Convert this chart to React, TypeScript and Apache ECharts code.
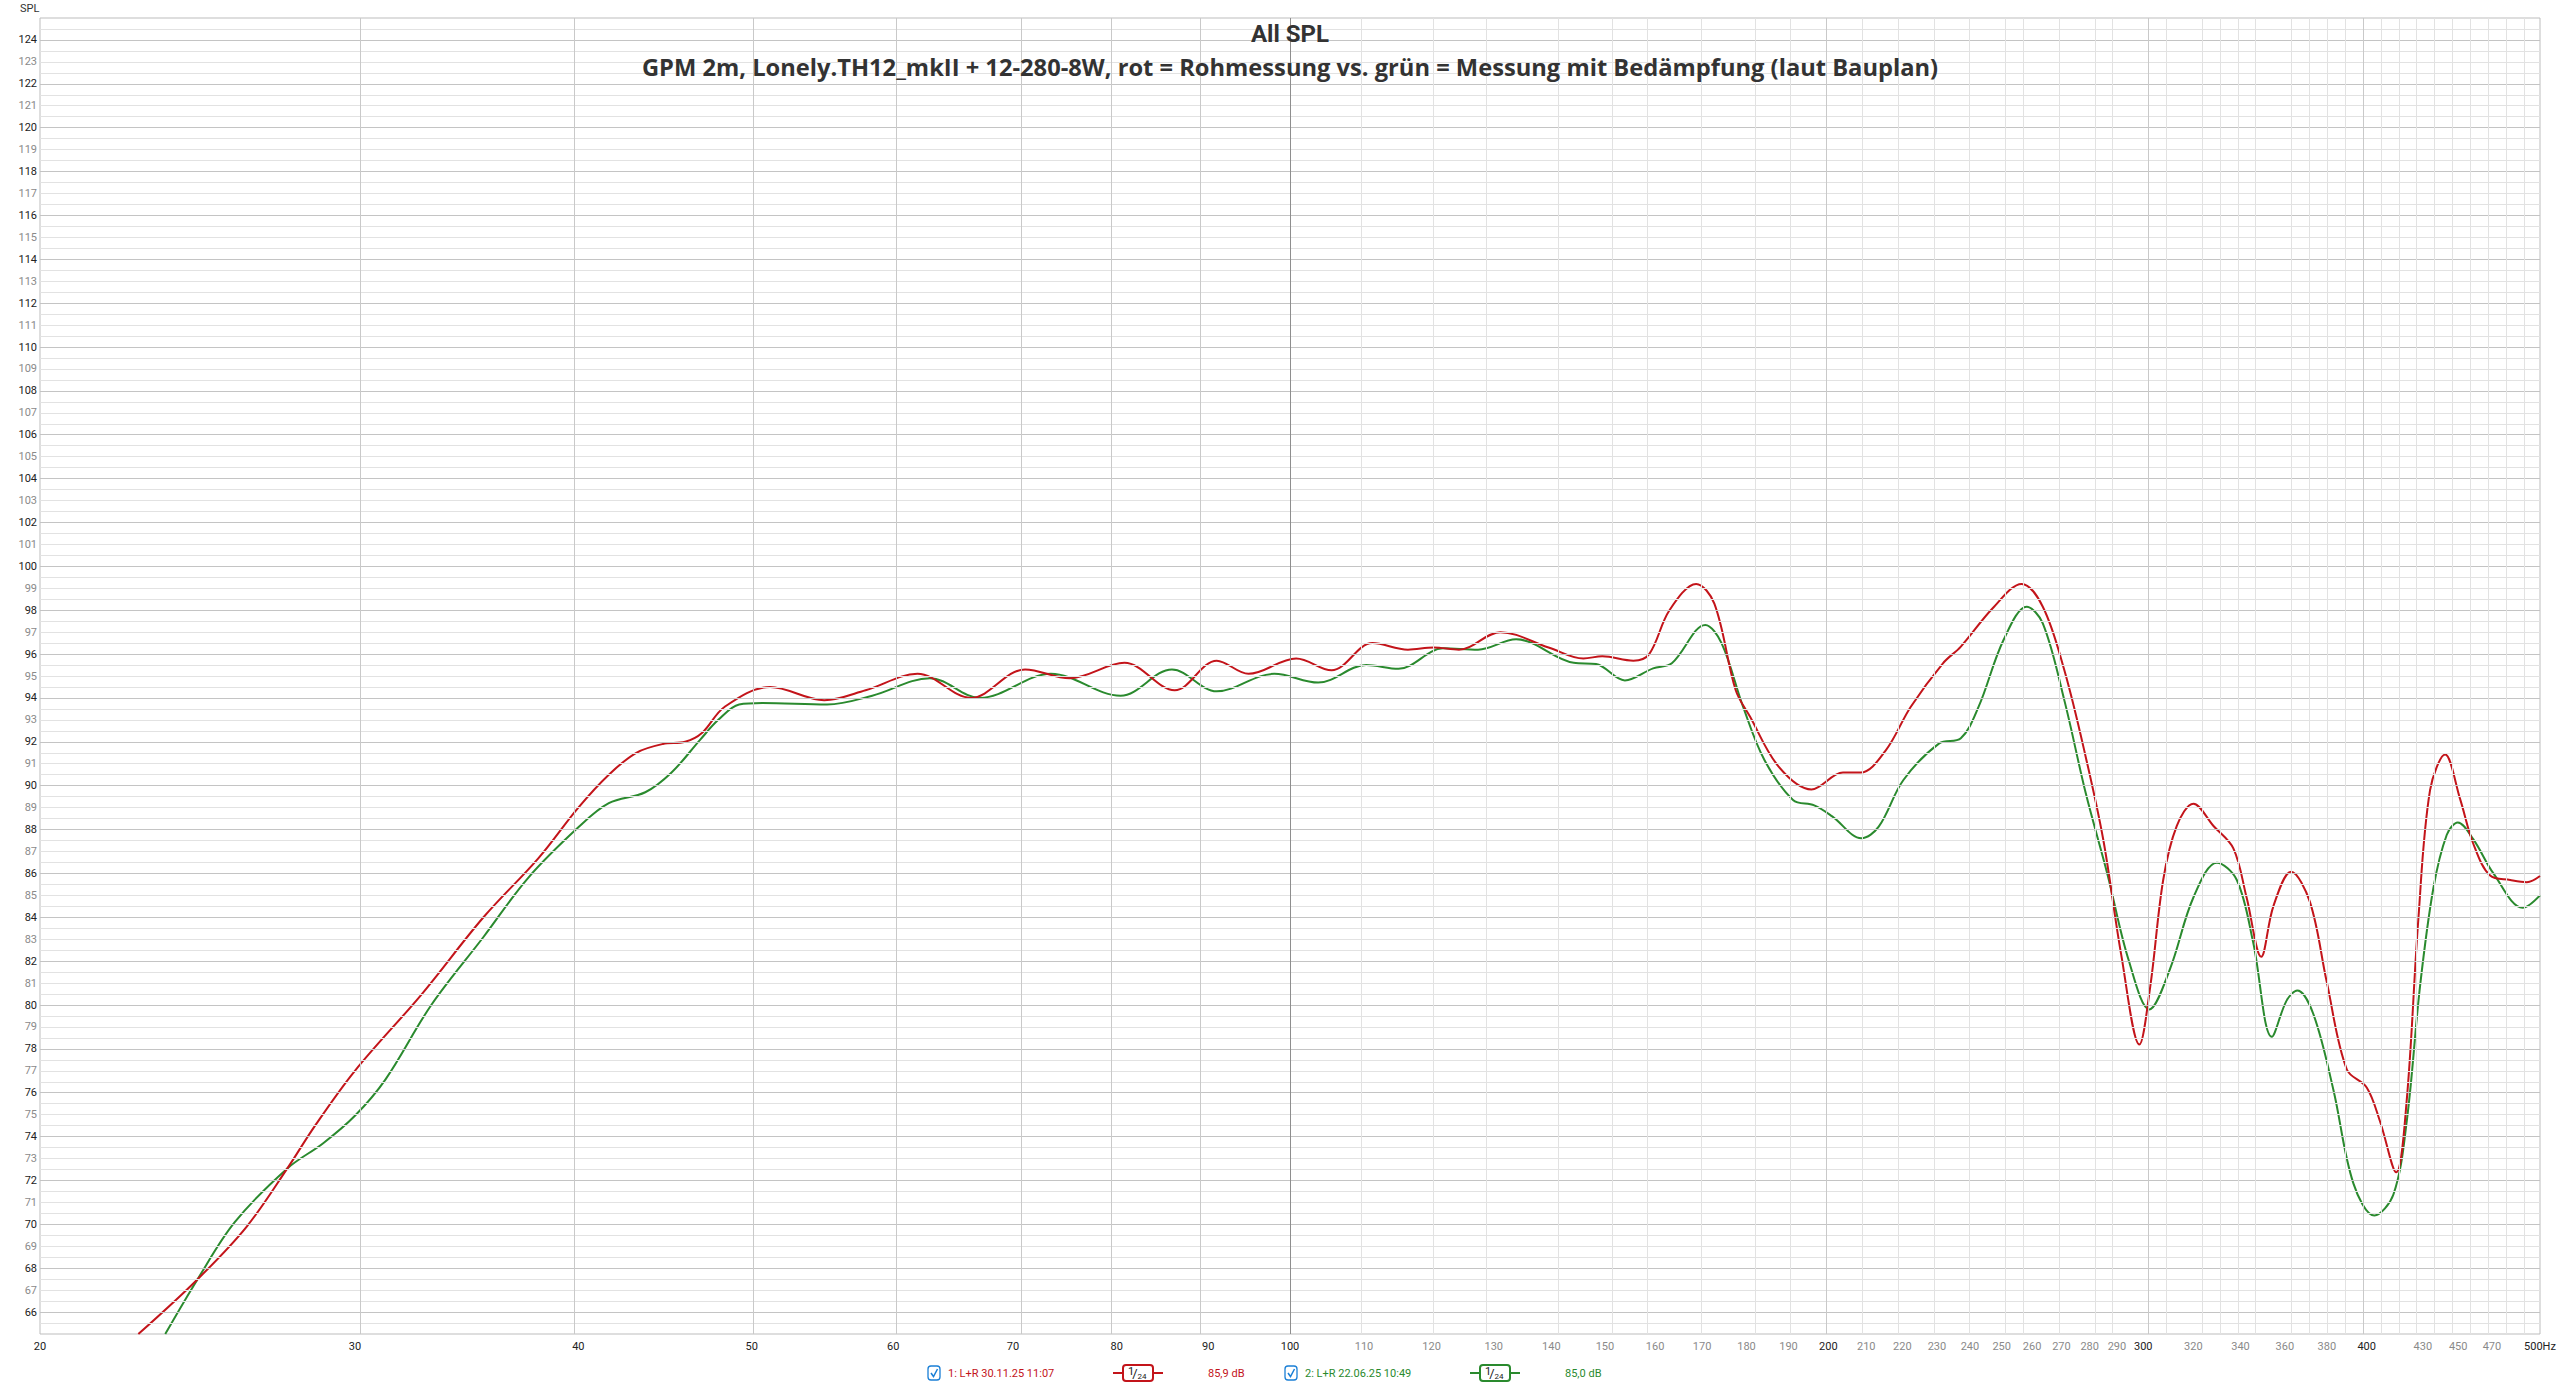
import React, { useEffect, useRef } from 'react';
import * as echarts from 'echarts';

// ---- data ----
const redFreq = [22.7, 24.5, 26.1, 27.5, 28.5, 30, 32.7, 35.4, 38, 40, 41.6, 43.1, 44.6, 45.9, 46.9, 48.3, 51.2, 54.9, 57.9, 61.9, 66.3, 71.1, 75.3, 80.8, 86.2, 91, 94.8, 100.8, 105.5, 111.2, 116.4, 120.3, 124.3, 131.1, 139.5, 145.9, 149.5, 155.6, 158.8, 163, 168.7, 172.7, 177.5, 180.8, 187.6, 195.7, 203.8, 208.5, 215.3, 222.4, 231.8, 237.2, 247.2, 256.5, 263.6, 271, 278.6, 285, 291.6, 298.5, 302.7, 307.8, 313.2, 320, 328.4, 336.9, 342.7, 349.2, 354.7, 362.9, 371.8, 380, 389.9, 400, 406.9, 415.5, 421.2, 427.5, 434, 442.5, 451.1, 458.9, 468.9, 481.2, 491.6, 500];
const redSpl = [65.0, 67.5, 69.9, 72.55, 74.5, 77.0, 80.5, 84.0, 86.7, 89.0, 90.5, 91.5, 91.9, 92.0, 92.4, 93.6, 94.5, 93.9, 94.35, 95.1, 94.0, 95.3, 94.9, 95.6, 94.35, 95.7, 95.1, 95.8, 95.26, 96.5, 96.2, 96.3, 96.2, 97.0, 96.3, 95.8, 95.9, 95.7, 96.0, 98.0, 99.2, 98.3, 94.36, 93.15, 90.87, 89.83, 90.6, 90.6, 91.6, 93.6, 95.58, 96.34, 98.1, 99.2, 98.16, 95.27, 91.3, 87.5, 82.3, 78.2, 80.83, 85.7, 88.16, 89.18, 88.16, 87.14, 84.9, 82.2, 84.5, 86.08, 84.7, 81.03, 77.06, 76.24, 74.7, 72.37, 75.7, 83.9, 89.8, 91.42, 89.4, 87.34, 85.9, 85.7, 85.6, 85.88];

const greenFreq = [23.5, 24.5, 25.7, 27.5, 28.8, 30, 31.2, 33.1, 35.4, 37.5, 40, 41.6, 43.6, 45.1, 46.8, 47.9, 49.2, 50.7, 55.1, 58.4, 62.9, 67.1, 73.5, 80.4, 85.9, 91, 98, 103.7, 110.3, 115, 121.8, 127.4, 133.8, 144.1, 148.3, 153.9, 159.6, 163.5, 170.7, 174.3, 179.2, 184.2, 191.1, 196.4, 201, 208.7, 213.4, 220.3, 230.7, 237.2, 242.7, 250.6, 258.2, 263.6, 271, 278.6, 286.4, 294.4, 302.4, 310.5, 320, 329.8, 338.4, 345.6, 354, 360.8, 365.8, 373.4, 383.2, 393.2, 404, 414, 421.2, 428.4, 435.8, 443.4, 449.8, 458.9, 470.9, 489, 500];
const greenSpl = [65.0, 67.5, 70.1, 72.55, 73.7, 74.95, 76.6, 80.0, 83.1, 85.8, 88.1, 89.2, 89.7, 90.6, 92.1, 93.0, 93.7, 93.77, 93.7, 94.1, 94.9, 94.0, 95.1, 94.1, 95.3, 94.3, 95.1, 94.7, 95.5, 95.33, 96.26, 96.2, 96.67, 95.6, 95.55, 94.8, 95.35, 95.58, 97.33, 96.5, 93.6, 91.17, 89.35, 89.1, 88.6, 87.6, 88.13, 90.26, 91.93, 92.16, 93.6, 96.64, 98.16, 97.4, 93.9, 89.65, 86.0, 82.05, 79.8, 81.64, 84.9, 86.49, 85.7, 82.86, 78.55, 80.2, 80.66, 79.6, 76.14, 71.87, 70.4, 71.36, 74.72, 80.83, 85.3, 87.75, 88.32, 87.55, 86.0, 84.43, 85.0];

const xLabelFreqs = [20, 30, 40, 50, 60, 70, 80, 90, 100, 110, 120, 130, 140, 150, 160, 170, 180, 190, 200, 210, 220, 230, 240, 250, 260, 270, 280, 290, 300, 320, 340, 360, 380, 400, 430, 450, 470, 500];
const xMajorFreqs = [20, 30, 40, 50, 60, 70, 80, 90, 100, 200, 300, 400, 500];
const xGridFreqs = [30, 40, 50, 60, 70, 80, 90, 100, 110, 120, 130, 140, 150, 160, 170, 180, 190, 200, 210, 220, 230, 240, 250, 260, 270, 280, 290, 300, 310, 320, 330, 340, 350, 360, 370, 380, 390, 400, 410, 420, 430, 440, 450, 460, 470, 480, 490];
const xMin = 20;
const xMax = 500;
const yMin = 65;
const yMax = 125;

const titleText = 'All SPL';
const subtitleText = 'GPM 2m, Lonely.TH12_mkII + 12-280-8W, rot = Rohmessung vs. grün = Messung mit Bedämpfung (laut Bauplan)';
const legendItems = [
  { name: '1: L+R 30.11.25 11:07', smoothing: '1/24', level: '85,9 dB' },
  { name: '2: L+R 22.06.25 10:49', smoothing: '1/24', level: '85,0 dB' },
];

const RED = '#c3141a';
const GREEN = '#2a8a2e';
const FONT = 'Roboto, "Noto Sans", sans-serif';
const TITLE_FONT = '"Open Sans", Roboto, sans-serif';

const lg = Math.log10;

function legendGraphic(x0: number, color: string, item: { name: string; level: string }) {
  const y = 1373;
  const els: any[] = [];
  els.push({
    type: 'rect', shape: { x: x0, y: y - 7, width: 12, height: 14, r: 3 },
    style: { fill: '#fff', stroke: '#1a7fd6', lineWidth: 1.3 }, z: 20,
  });
  els.push({
    type: 'polyline', shape: { points: [[x0 + 3, y], [x0 + 5.5, y + 3.5], [x0 + 9.5, y - 4]] },
    style: { fill: null, stroke: '#1a7fd6', lineWidth: 1.5 }, z: 21,
  });
  els.push({
    type: 'text', x: x0 + 20, y,
    style: { text: item.name, fill: color, fontSize: 11, fontFamily: FONT, align: 'left', verticalAlign: 'middle' }, z: 20,
  });
  const sx = x0 + 185;
  els.push({ type: 'line', shape: { x1: sx, y1: y, x2: sx + 50, y2: y }, style: { stroke: color, lineWidth: 2 }, z: 20 });
  els.push({
    type: 'rect', shape: { x: sx + 10, y: y - 8, width: 30, height: 16, r: 3 },
    style: { fill: '#fff', stroke: color, lineWidth: 2 }, z: 21,
  });
  els.push({ type: 'text', x: sx + 18, y: y - 2, style: { text: '1', fill: '#222', fontSize: 11, fontFamily: FONT, align: 'center', verticalAlign: 'middle' }, z: 22 });
  els.push({ type: 'text', x: sx + 22, y, style: { text: '/', fill: '#222', fontSize: 13, fontFamily: FONT, align: 'center', verticalAlign: 'middle' }, z: 22 });
  els.push({ type: 'text', x: sx + 29, y: y + 3, style: { text: '24', fill: '#222', fontSize: 8, fontFamily: FONT, align: 'center', verticalAlign: 'middle' }, z: 22 });
  els.push({
    type: 'text', x: x0 + 280, y,
    style: { text: item.level, fill: color, fontSize: 11, fontFamily: FONT, align: 'left', verticalAlign: 'middle' }, z: 20,
  });
  return els;
}

export default function App() {
  const ref = useRef<HTMLDivElement>(null);
  useEffect(() => {
    if (!ref.current) return;
    const chart = echarts.init(ref.current, undefined, { renderer: 'svg' });

    const vLines = xGridFreqs.map((f) => ({
      xAxis: lg(f),
      lineStyle: { color: f === 100 ? '#8e8e8e' : xMajorFreqs.includes(f) ? '#c9c9c9' : '#e2e2e2', width: 1, type: 'solid' },
    }));
    const hLines: any[] = [];
    for (let v = yMin + 0.5; v < yMax; v += 0.5) {
      hLines.push({
        yAxis: v,
        lineStyle: { color: v % 2 === 0 ? '#c4c4c4' : '#e2e2e2', width: 1, type: 'solid' },
      });
    }

    const option: any = {
      animation: false,
      backgroundColor: '#ffffff',
      textStyle: { fontFamily: FONT },
      grid: { left: 40, right: 20, top: 18, bottom: 51, show: true, borderColor: '#bdbdbd', borderWidth: 1, backgroundColor: 'transparent', containLabel: false },
      xAxis: {
        type: 'value',
        min: lg(xMin),
        max: lg(xMax),
        axisLine: { show: false },
        axisTick: { show: false },
        splitLine: { show: false },
        axisLabel: {
          customValues: xLabelFreqs.map((f) => lg(f)),
          margin: 7,
          formatter: (v: number) => {
            const f = Math.round(Math.pow(10, v));
            if (f === 500) return '{d|500Hz}';
            return xMajorFreqs.includes(f) ? `{d|${f}}` : `{g|${f}}`;
          },
          rich: {
            d: { color: '#222', fontSize: 11, fontFamily: FONT },
            g: { color: '#8a8a8a', fontSize: 11, fontFamily: FONT },
          },
        },
      },
      yAxis: {
        type: 'value',
        min: yMin,
        max: yMax,
        interval: 1,
        axisLine: { show: false },
        axisTick: { show: false },
        splitLine: { show: false },
        axisLabel: {
          margin: 3,
          formatter: (v: number) => {
            if (v === yMin || v === yMax) return '';
            return v % 2 === 0 ? `{d|${v}}` : `{g|${v}}`;
          },
          rich: {
            d: { color: '#222', fontSize: 11, fontFamily: FONT },
            g: { color: '#8a8a8a', fontSize: 11, fontFamily: FONT },
          },
        },
      },
      graphic: [
        { type: 'text', x: 20, y: 8, style: { text: 'SPL', fill: '#333', fontSize: 11, fontFamily: FONT, align: 'left', verticalAlign: 'middle' }, z: 20 },
        { type: 'text', x: 1290, y: 34, style: { text: titleText, fill: '#333', fontSize: 24, fontWeight: 'bold', fontFamily: FONT, align: 'center', verticalAlign: 'middle' }, z: 20 },
        { type: 'text', x: 1290, y: 67, style: { text: subtitleText, fill: '#333', fontSize: 23.7, fontWeight: 'bold', fontFamily: TITLE_FONT, align: 'center', verticalAlign: 'middle' }, z: 20 },
        ...legendGraphic(928, RED, legendItems[0]),
        ...legendGraphic(1285, GREEN, legendItems[1]),
      ],
      series: [
        {
          type: 'line',
          name: 'grid',
          data: [],
          silent: true,
          z: 1,
          markLine: {
            silent: true,
            symbol: ['none', 'none'],
            label: { show: false },
            emphasis: { disabled: true },
            data: [...hLines, ...vLines],
          },
        },
        {
          type: 'line',
          name: legendItems[1].name,
          data: greenFreq.map((f, i) => [lg(f), greenSpl[i]]),
          showSymbol: false,
          smooth: 0.35,
          clip: true,
          z: 3,
          lineStyle: { color: GREEN, width: 2 },
          itemStyle: { color: GREEN },
        },
        {
          type: 'line',
          name: legendItems[0].name,
          data: redFreq.map((f, i) => [lg(f), redSpl[i]]),
          showSymbol: false,
          smooth: 0.35,
          clip: true,
          z: 4,
          lineStyle: { color: RED, width: 2 },
          itemStyle: { color: RED },
        },
      ],
    };
    chart.setOption(option);
    return () => chart.dispose();
  }, []);
  return (
    <div
      ref={ref}
      style={{ position: 'absolute', left: 0, top: 0, width: 2560, height: 1385, background: '#fff' }}
    />
  );
}
